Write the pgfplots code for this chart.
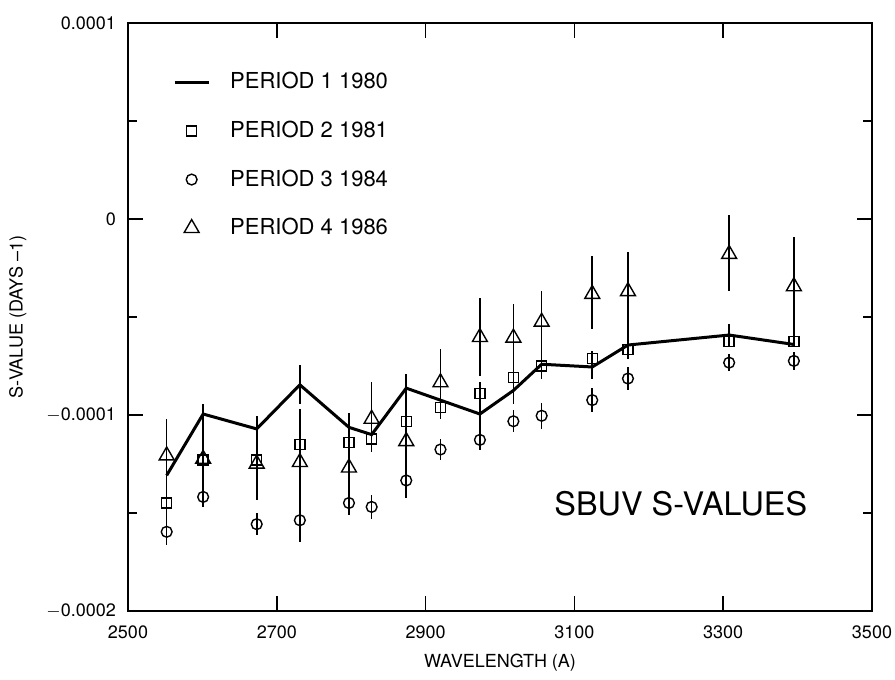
\documentclass[border=0pt]{standalone}
\usepackage{pgfplots}
\pgfplotsset{compat=1.18}
\usepackage{fontspec}
\setmainfont{TeX Gyre Heros}
\begin{document}
\begin{tikzpicture}
\begin{axis}[
  scale only axis, width=372pt, height=294pt,
  xmin=2500, xmax=3500, ymin=-0.0002, ymax=0.0001,
  xtick={2500,2700,2900,3100,3300,3500},
  ytick={-0.0002,-0.0001,0,0.0001},
  yticklabels={$-$0.0002,$-$0.0001,0,0.0001},
  minor ytick={-0.00015,-0.00005,0.00005},
  scaled y ticks=false,
  tick align=inside,
  major tick length=7.5pt, minor tick length=4.5pt,
  every tick/.style={black, line width=0.8pt},
  axis line style={line width=1pt},
  /pgf/number format/assume math mode=true,
  /pgf/number format/set thousands separator={},
  tick label style={font=\fontsize{9}{11}\selectfont},
  xticklabel style={yshift=-4pt},
  yticklabel style={xshift=-2.5pt},
  label style={font=\fontsize{9}{11}\selectfont},
  xlabel={WAVELENGTH (A)}, ylabel={S-VALUE (DAYS –1)},
  xlabel style={at={(axis description cs:0.5,-0.088)}, anchor=center},
  ylabel style={at={(axis description cs:-0.148,0.5)}, anchor=center},
  legend style={draw=none, fill=none, at={(axis description cs:0.052,0.93)},
    anchor=north west, row sep=10.6pt, column sep=8pt,
    font=\fontsize{11}{13}\selectfont},
  legend cell align=left,
]
% period 1, 1980
\addplot[black, line width=1.5pt, mark=none,
  error bars/.cd, y dir=both, y explicit, error mark=none,
  error bar style={line width=0.8pt}]
coordinates {
  (2552,-130.8e-6) +- (0,0)
  (2601,-99.5e-6) +- (0,0)
  (2673,-107.1e-6) +- (0,0)
  (2731,-84.6e-6) +- (0,10e-6)
  (2797,-106.3e-6) +- (0,0)
  (2827.5,-110e-6) +- (0,0)
  (2874,-86.3e-6) +- (0,0)
  (2973,-99.5e-6) +- (0,0)
  (3018,-87.5e-6) +- (0,0)
  (3056,-74.1e-6) +- (0,0)
  (3124,-75.5e-6) +- (0,0)
  (3172,-64.3e-6) +- (0,0)
  (3308,-59.2e-6) +- (0,5.5e-6)
  (3395,-64e-6) +- (0,0)
};
\addlegendentry{PERIOD 1 1980}
% period 2, 1981
\addplot[black, only marks, mark=square, mark size=2.5pt, mark options={line width=0.7pt},
  error bars/.cd, y dir=both, y explicit, error mark=none,
  error bar style={line width=0.8pt}]
coordinates {
  (2552,-144.9e-6) +- (0,0)
  (2601,-122.9e-6) +- (0,0)
  (2673,-122.9e-6) +- (0,0)
  (2731,-115.2e-6) +- (0,0)
  (2797,-113.9e-6) +- (0,0)
  (2827.5,-112.2e-6) +- (0,0)
  (2874,-103.2e-6) +- (0,0)
  (2920,-96.1e-6) +- (0,0)
  (2973,-89e-6) +- (0,0)
  (3018,-80.9e-6) +- (0,0)
  (3056,-75e-6) +- (0,0)
  (3124,-71.3e-6) += (0,4e-6) -= (0,10.4e-6)
  (3172,-66.5e-6) +- (0,0)
  (3308,-62.6e-6) +- (0,0)
  (3395,-62.6e-6) +- (0,0)
};
\addlegendentry{PERIOD 2 1981}
% period 3, 1984
\addplot[black, only marks, mark=o, mark size=2.7pt, mark options={line width=0.7pt},
  error bars/.cd, y dir=both, y explicit, error mark=none,
  error bar style={line width=0.8pt}]
coordinates {
  (2552,-159.6e-6) +- (0,0)
  (2601,-141.8e-6) +- (0,0)
  (2673,-155.7e-6) +- (0,5.5e-6)
  (2731,-153.7e-6) +- (0,0)
  (2797,-144.9e-6) +- (0,0)
  (2827.5,-146.9e-6) +- (0,6e-6)
  (2874,-133.4e-6) +- (0,0)
  (2920,-117.6e-6) +- (0,5.5e-6)
  (2973,-112.7e-6) += (0,29.3e-6) -= (0,5.3e-6)
  (3018,-103.2e-6) +- (0,5.5e-6)
  (3056,-100.4e-6) +- (0,6.7e-6)
  (3124,-92.4e-6) +- (0,6e-6)
  (3172,-81.4e-6) +- (0,6e-6)
  (3308,-73.3e-6) +- (0,4.5e-6)
  (3395,-72.4e-6) +- (0,4.5e-6)
};
\addlegendentry{PERIOD 3 1984}
% period 4, 1986
\addplot[black, only marks, mark=triangle, mark size=4.3pt, mark options={line width=0.7pt},
  error bars/.cd, y dir=both, y explicit, error mark=none,
  error bar style={line width=0.8pt}]
coordinates {
  (2552,-120.7e-6) += (0,18.7e-6) -= (0,45.6e-6)
  (2601,-122.4e-6) += (0,28e-6) -= (0,24.5e-6)
  (2673,-124.9e-6) += (0,24.5e-6) -= (0,18.6e-6)
  (2731,-124.1e-6) += (0,27e-6) -= (0,40.6e-6)
  (2797,-126.9e-6) += (0,27.7e-6) -= (0,24.2e-6)
  (2827.5,-102e-6) += (0,18.6e-6) -= (0,17e-6)
  (2874,-113.4e-6) += (0,34.2e-6) -= (0,29.2e-6)
  (2920,-83.4e-6) += (0,17e-6) -= (0,18.6e-6)
  (2973,-60.3e-6) += (0,20e-6) -= (0,19.7e-6)
  (3018,-60.6e-6) += (0,17e-6) -= (0,33.8e-6)
  (3056,-52.5e-6) += (0,16e-6) -= (0,29.2e-6)
  (3124,-38.3e-6) += (0,19.2e-6) -= (0,18e-6)
  (3172,-36.9e-6) += (0,20.3e-6) -= (0,34.7e-6)
  (3308,-17.9e-6) += (0,19.9e-6) -= (0,19e-6)
  (3395,-34.4e-6) += (0,25.4e-6) -= (0,30.4e-6)
};
\addlegendentry{PERIOD 4 1986}
\node[font=\fontsize{16.2}{19}\selectfont] at (axis cs:3243,-0.000145) {SBUV S-VALUES};
\coordinate (sw) at (rel axis cs:0,0);
\coordinate (ne) at (rel axis cs:1,1);
\end{axis}
\pgfresetboundingbox
\path ([shift={(-64pt,-34.5pt)}]sw) rectangle ([shift={(11.5pt,11.5pt)}]ne);
\end{tikzpicture}
\end{document}
